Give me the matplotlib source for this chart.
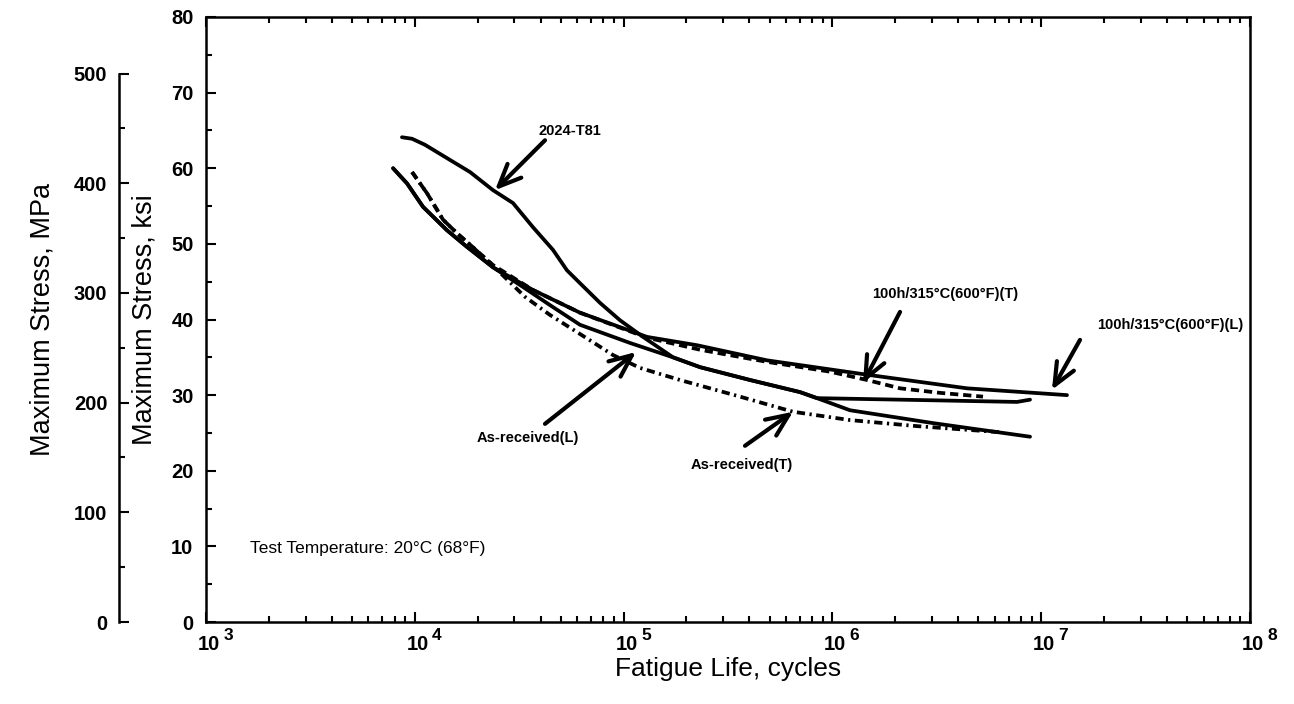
import numpy as np
import matplotlib
matplotlib.use('Agg')
import matplotlib.pyplot as plt
from matplotlib.ticker import LogLocator, FixedLocator, MultipleLocator, NullFormatter

plt.rcParams['font.family'] = ['Liberation Sans', 'DejaVu Sans']

KSI_TO_MPA = 6.895

# S-N curves: fatigue life (cycles) vs maximum stress (ksi)
t81_N = [8680, 9700, 11190, 14740, 18380, 23690, 29530, 36820, 45910, 53570, 61830,
         77090, 96110, 123900, 172400, 232200, 403100, 699500, 843900, 1.214e6, 3.033e6, 8.84e6]
t81_S = [64.1, 63.9, 63.1, 61.1, 59.5, 57.1, 55.4, 52.2, 49.2, 46.5, 44.8,
         42.2, 39.9, 37.7, 35.0, 33.7, 32.0, 30.4, 29.6, 28.0, 26.3, 24.5]

arL_N = [7870, 9175, 10950, 14260, 17780, 23690, 32970, 44410, 61830, 107300, 172400,
         232200, 403100, 699500, 843900, 2.108e6, 7.657e6, 8.84e6]
arL_S = [60.0, 58.0, 54.9, 51.8, 49.6, 46.9, 44.3, 41.9, 39.3, 36.9, 35.0,
         33.7, 32.0, 30.4, 29.6, 29.4, 29.1, 29.4]

arT_N = [9700, 11440, 13650, 15930, 18380, 23690, 33710, 44410, 58530, 77090, 88960,
         119800, 186200, 361000, 647800, 1.214e6, 2.542e6, 6.349e6]
arT_S = [59.5, 56.7, 53.2, 51.4, 49.9, 47.1, 43.0, 40.6, 38.5, 36.4, 35.3,
         33.6, 32.0, 29.8, 27.8, 26.7, 25.9, 25.1]

h100L_N = [7870, 9175, 10950, 14260, 17780, 23690, 36820, 61830, 129400, 224600,
           486200, 1.465e6, 4.413e6, 1.329e7]
h100L_S = [60.0, 58.0, 54.9, 51.8, 49.6, 46.9, 43.9, 40.9, 37.7, 36.6,
           34.6, 32.7, 30.9, 30.0]

h100T_N = [9700, 11440, 13650, 15930, 18380, 23690, 36820, 61830, 129400, 232200,
           486200, 973900, 1.465e6, 2.108e6, 3.277e6, 5.263e6]
h100T_S = [59.5, 56.7, 53.2, 51.4, 49.9, 47.2, 43.9, 40.9, 37.6, 36.0,
           34.4, 33.1, 32.0, 30.9, 30.3, 29.8]

# callouts: label, text position, arrow tail, arrow tip (cycles, ksi)
labels = ['2024-T81', '100h/315°C(600°F)(T)', '100h/315°C(600°F)(L)',
          'As-received(L)', 'As-received(T)']
text_pos = [(55380, 64.9), (3.462e6, 43.4), (4.139e7, 39.3), (34840, 24.3), (369000, 20.8)]
tails = [(42030, 63.7), (2.108e6, 41.0), (1.534e7, 37.3), (42030, 26.2), (381400, 23.3)]
tips = [(24220, 57.1), (1.402e6, 31.6), (1.126e7, 30.7), (114700, 35.7), (647800, 27.8)]

decades = [3, 4, 5, 6, 7, 8]

fig = plt.figure(figsize=(12.94, 7.04), dpi=100)
ax = fig.add_axes([206 / 1294, 1 - 622 / 704, 1044 / 1294, 605 / 704])

lw = 2.7
ax.plot(t81_N, t81_S, color='black', lw=lw, solid_capstyle='round')
ax.plot(arL_N, arL_S, color='black', lw=lw, solid_capstyle='round')
ax.plot(h100L_N, h100L_S, color='black', lw=lw, solid_capstyle='round')
ax.plot(h100T_N, h100T_S, color='black', lw=lw, dashes=(2.2, 1.3))
ax.plot(arT_N, arT_S, color='black', lw=lw, dashes=(2.2, 1.2, 0.6, 1.2))

ax.set_xscale('log')
ax.set_xlim(1e3, 1e8)
ax.set_ylim(0, 80)

ax.xaxis.set_major_locator(LogLocator(base=10, numticks=10))
ax.xaxis.set_minor_locator(LogLocator(base=10, subs=np.arange(2, 10), numticks=20))
ax.xaxis.set_major_formatter(NullFormatter())
ax.xaxis.set_minor_formatter(NullFormatter())
ax.yaxis.set_major_locator(MultipleLocator(10))
ax.yaxis.set_minor_locator(MultipleLocator(5))

ax.tick_params(which='both', direction='in', top=True, right=True, width=1.5)
ax.tick_params(which='major', length=7, labelsize=14.5, pad=9)
ax.tick_params(which='minor', length=4)
for lab in ax.get_yticklabels():
    lab.set_fontweight('bold')
for sp in ax.spines.values():
    sp.set_linewidth(1.8)

# decade labels written as "10" with a raised exponent beside it
for k in decades:
    ax.annotate('10', xy=(10.0 ** k, 0), xycoords=('data', 'axes fraction'),
                xytext=(2, -9), textcoords='offset points',
                ha='center', va='top', fontsize=14.5, fontweight='bold')
    ax.annotate(str(k), xy=(10.0 ** k, 0), xycoords=('data', 'axes fraction'),
                xytext=(16, -4), textcoords='offset points',
                ha='center', va='top', fontsize=12.5, fontweight='bold')

ax.set_xlabel('Fatigue Life, cycles', fontsize=19, labelpad=16)
ax.set_ylabel('Maximum Stress, ksi', fontsize=19.5, labelpad=10)

# secondary stress scale in MPa, offset to the left
ax2 = ax.twinx()
ax2.set_ylim(0, 80 * KSI_TO_MPA)
ax2.yaxis.set_ticks_position('left')
ax2.yaxis.set_label_position('left')
for name in ['right', 'top', 'bottom']:
    ax2.spines[name].set_visible(False)
ax2.spines['left'].set_position(('outward', 63))
ax2.spines['left'].set_bounds(0, 500)
ax2.spines['left'].set_linewidth(1.8)
ax2.yaxis.set_major_locator(FixedLocator([0, 100, 200, 300, 400, 500]))
ax2.yaxis.set_minor_locator(FixedLocator([50, 150, 250, 350, 450]))
ax2.tick_params(which='both', direction='in', width=1.5)
ax2.tick_params(which='major', length=7, labelsize=14.5, pad=8)
ax2.tick_params(which='minor', length=4)
for lab in ax2.get_yticklabels():
    lab.set_fontweight('bold')
ax2.set_ylabel('Maximum Stress, MPa', fontsize=19.5, labelpad=13)

for lab, tp, tl, tip in zip(labels, text_pos, tails, tips):
    ax.text(tp[0], tp[1], lab, fontsize=10.5, fontweight='bold', ha='center', va='center')
    ax.annotate('', xy=tip, xytext=tl,
                arrowprops=dict(arrowstyle='->,head_length=1.6,head_width=0.7',
                                lw=3.0, color='black', mutation_scale=10,
                                shrinkA=0, shrinkB=0))

ax.text(0.042, 0.122, 'Test Temperature: 20°C (68°F)', transform=ax.transAxes,
        fontsize=12.5, ha='left', va='center')

fig.savefig('out.png', dpi=100)
